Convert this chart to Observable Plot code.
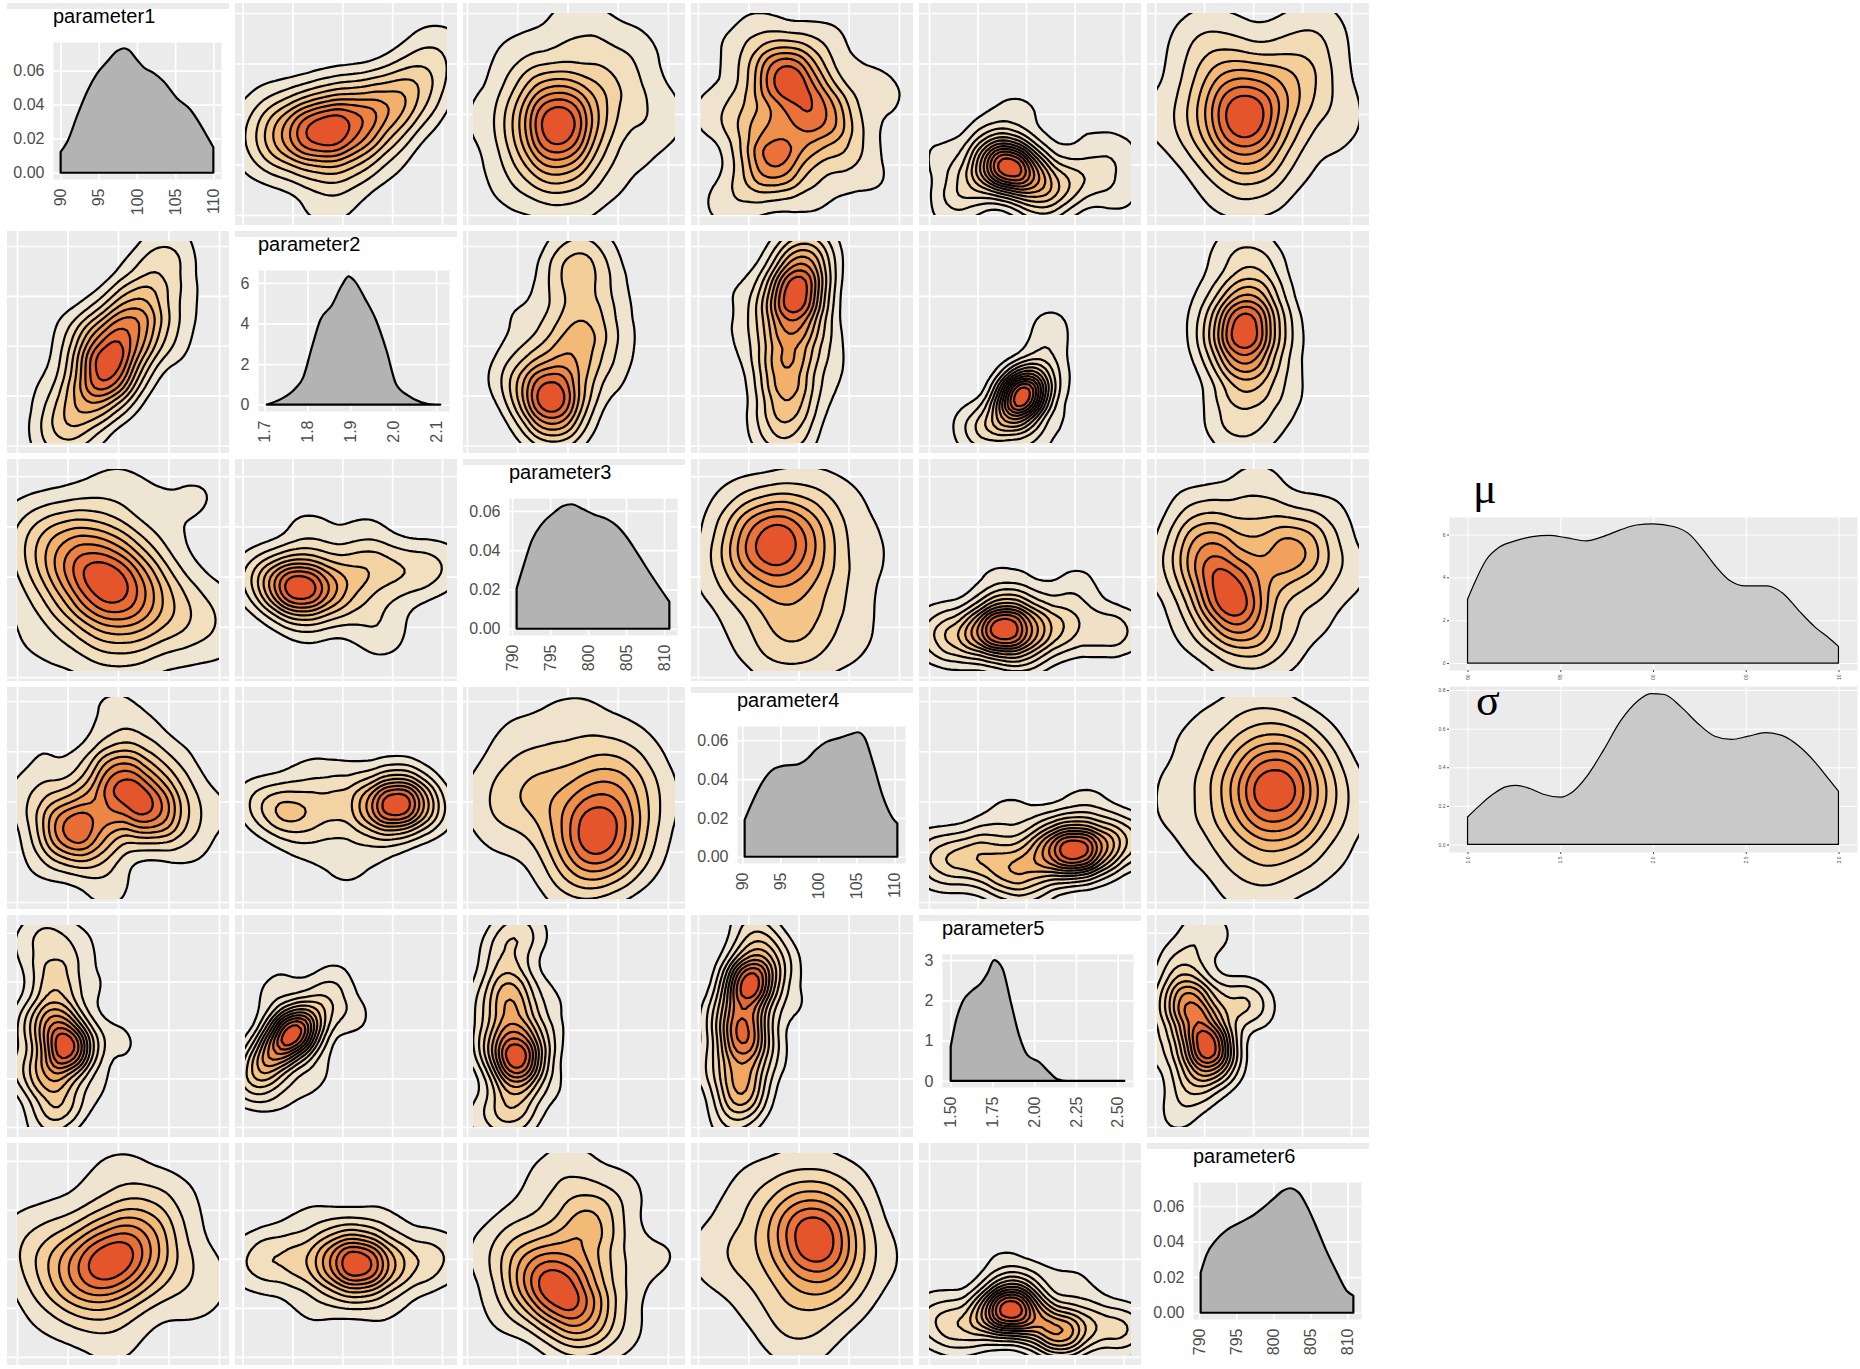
<!DOCTYPE html>
<html><head><meta charset="utf-8">
<script src="https://cdn.jsdelivr.net/npm/d3@7"></script>
<script src="https://cdn.jsdelivr.net/npm/@observablehq/plot@0.6"></script>
<style>
body{margin:0;background:#fff;font-family:"Liberation Sans",Arial,sans-serif;}
#root{position:relative;width:1860px;height:1369px;overflow:hidden;background:#fff;}
.title{position:absolute;font-size:20px;line-height:20px;color:#000;white-space:nowrap;font-family:"Liberation Sans",Arial,sans-serif;}
.greek{position:absolute;font-family:"Liberation Serif","DejaVu Serif",serif;font-size:44px;line-height:44px;color:#000;}
svg{display:block;}
</style></head><body><div id="root"></div>
<script>
// ---------- variables ----------
const varNames = ["parameter1","parameter2","parameter3","parameter4","parameter5","parameter6"];
const varLo = [90, 1.705, 790.6, 90.3, 1.5, 790.2];
const varHi = [110, 2.11, 810.7, 110.4, 2.54, 810.8];
const tickVals = [[90,95,100,105,110],[1.7,1.8,1.9,2.0,2.1],[790,795,800,805,810],[90,95,100,105,110],[1.5,1.75,2.0,2.25,2.5],[790,795,800,805,810]];
const tickLabels = [["90","95","100","105","110"],["1.7","1.8","1.9","2.0","2.1"],["790","795","800","805","810"],["90","95","100","105","110"],["1.50","1.75","2.00","2.25","2.50"],["790","795","800","805","810"]];
const densTicks = [[0,0.02,0.04,0.06],[0,2,4,6],[0,0.02,0.04,0.06],[0,0.02,0.04,0.06],[0,1,2,3],[0,0.02,0.04,0.06]];
const densLabels = [["0.00","0.02","0.04","0.06"],["0","2","4","6"],["0.00","0.02","0.04","0.06"],["0.00","0.02","0.04","0.06"],["0","1","2","3"],["0.00","0.02","0.04","0.06"]];

// ---------- marginal densities (diagonal) ----------
const p1X = [90,90.9,92.2,93.5,94.8,96.1,97.4,98.3,98.9,100,100.9,102.2,103.5,105.2,107,108.3,109.3,110];
const p1D = [0.0123,0.0185,0.034,0.048,0.0585,0.0653,0.0715,0.0731,0.0721,0.0663,0.0618,0.0585,0.0536,0.0439,0.037,0.0283,0.0205,0.015];
const p2X = [1.705,1.739,1.77,1.79,1.81,1.83,1.857,1.88,1.896,1.91,1.935,1.96,1.985,2.007,2.035,2.066,2.097,2.11];
const p2D = [0,0.28,0.76,1.33,2.8,4.17,4.9,5.87,6.32,6.1,5.2,4.17,2.63,1.0,0.44,0.11,0.0,0];
const p3X = [790.6,791.5,792.6,793.9,795.4,796.7,797.8,799.4,800.7,802.5,803.8,805.1,806.4,808.2,809.5,810.7];
const p3D = [0.0205,0.032,0.045,0.0533,0.0588,0.0625,0.0634,0.0608,0.0583,0.0558,0.0524,0.0466,0.039,0.028,0.0205,0.0138];
const p4X = [90.3,91.4,92.7,94,95.5,97.1,98.4,99.7,101,102.8,104.1,105.2,106.1,107.2,108.5,109.8,110.4];
const p4D = [0.019,0.029,0.0388,0.0448,0.0469,0.0474,0.05,0.0552,0.059,0.0612,0.0629,0.0641,0.0612,0.0483,0.031,0.0198,0.0172];
const p5X = [1.5,1.53,1.57,1.63,1.68,1.72,1.76,1.81,1.86,1.91,1.96,2.03,2.09,2.14,2.2,2.35,2.54];
const p5D = [0.85,1.47,1.96,2.25,2.42,2.67,3.0,2.79,1.96,1.13,0.64,0.47,0.22,0.04,0,0,0];
const p6X = [790.2,791,792.3,793.7,795.5,797.3,798.6,800,801.3,802.2,803.4,804.5,805.9,807.2,808.6,809.9,810.8];
const p6D = [0.0225,0.0327,0.041,0.0465,0.0507,0.0548,0.0589,0.064,0.0686,0.07,0.0677,0.0603,0.0474,0.0345,0.0225,0.0124,0.0096];

// ---------- mu / sigma densities ----------
const muX = [0.90,0.9045,0.91,0.917,0.926,0.935,0.944,0.953,0.964,0.973,0.982,0.991,1.00,1.011,1.02,1.027,1.034,1.041,1.05,1.061,1.07,1.079,1.088,1.095,1.10];
const muD = [2.98,3.88,4.81,5.4,5.71,5.9,5.96,5.85,5.7,5.9,6.2,6.44,6.49,6.37,5.98,5.28,4.5,3.88,3.6,3.6,3.26,2.41,1.63,1.16,0.78];
const muTicks = [0.90,0.95,1.00,1.05,1.10];
const muTickLabels = ["0.90","0.95","1.00","1.05","1.10"];
const muDensTicks = [0,2,4,6];
const sigX = [1.0,1.063,1.136,1.209,1.263,1.335,1.408,1.499,1.571,1.644,1.734,1.825,1.916,1.988,2.061,2.151,2.242,2.333,2.423,2.514,2.605,2.695,2.786,2.877,2.949,3.0];
const sigD = [0.142,0.2,0.26,0.3,0.306,0.29,0.26,0.245,0.276,0.354,0.49,0.64,0.742,0.782,0.777,0.713,0.627,0.561,0.544,0.561,0.579,0.565,0.51,0.423,0.337,0.276];
const sigTicks = [1.0,1.5,2.0,2.5,3.0];
const sigTickLabels = ["1.0","1.5","2.0","2.5","3.0"];
const sigDensTicks = [0,0.2,0.4,0.6,0.8];
const sigDensLabels = ["0.0","0.2","0.4","0.6","0.8"];

// ---------- pairwise samples: [fraction of x range, fraction of y range, weight] ----------
const pan01 = [[0.36,0.41,3],[0.55,0.45,2],[0.72,0.55,1.5],[0.2,0.38,1],[0.85,0.62,0.8],[0.1,0.3,0.5],[0.5,0.25,0.6],[0.45,0.6,0.6],[0.92,0.75,0.4],[0.05,0.45,0.3],[0.4,0.08,0.6],[0.95,0.85,0.4],[0.15,0.55,0.4],[0.7,0.3,0.4]];
const pan02 = [[0.42,0.45,2.5],[0.42,0.36,1.5],[0.42,0.56,1.2],[0.45,0.25,1.2],[0.36,0.62,1.2],[0.7,0.7,1.2],[0.6,0.5,1],[0.25,0.4,0.8],[0.3,0.15,0.6],[0.75,0.2,0.5],[0.2,0.8,0.6],[0.55,0.9,0.5],[0.85,0.45,0.5],[0.1,0.15,0.4],[0.9,0.9,0.4],[0.05,0.5,0.6],[0.95,0.5,0.5],[0.5,0.05,0.5],[0.5,0.95,0.5]];
const pan03 = [[0.4,0.7,3],[0.6,0.5,2.2],[0.36,0.25,2.4],[0.5,0.62,1.0],[0.47,0.4,0.9],[0.25,0.5,0.8],[0.6,0.85,0.7],[0.75,0.35,0.6],[0.15,0.8,0.5],[0.2,0.1,0.5],[0.85,0.7,0.4],[0.55,0.05,0.4],[0.05,0.5,0.6],[0.9,0.15,0.4],[0.3,0.95,0.5],[0.95,0.55,0.4],[0.1,0.05,0.4],[0.3,0.4,0.8],[0.65,0.25,0.6]];
const pan04 = [[0.39,0.24,4],[0.5,0.2,2],[0.3,0.28,1.5],[0.65,0.15,1.2],[0.2,0.15,1],[0.8,0.2,0.8],[0.55,0.05,1],[0.1,0.05,0.6],[0.95,0.1,0.5],[0.45,0.45,0.3],[0.85,0.4,0.2],[0.05,0.3,0.5],[0.95,0.3,0.5],[0.3,0.45,0.4],[0.7,0.45,0.3],[0.45,0.55,0.3]];
const pan05 = [[0.43,0.48,3],[0.45,0.35,1.5],[0.4,0.62,1.5],[0.68,0.62,1.5],[0.3,0.75,0.8],[0.7,0.8,0.6],[0.2,0.4,0.6],[0.5,0.15,0.8],[0.8,0.3,0.4],[0.15,0.85,0.4],[0.85,0.9,0.3],[0.3,0.1,0.4],[0.05,0.5,0.6],[0.95,0.5,0.5],[0.3,0.95,0.4],[0.75,0.95,0.4]];
const pan10 = [[0.45,0.35,3],[0.55,0.55,2],[0.6,0.7,1.2],[0.35,0.2,1.2],[0.7,0.85,0.6],[0.25,0.1,0.6],[0.4,0.5,1],[0.75,0.5,0.5],[0.3,0.55,0.4],[0.2,0.02,0.6],[0.75,0.98,0.5],[0.85,0.7,0.3],[0.15,0.3,0.3]];
const pan12 = [[0.38,0.25,3],[0.4,0.15,1.5],[0.5,0.45,1.5],[0.55,0.6,1.2],[0.48,0.82,1.2],[0.3,0.55,0.5],[0.25,0.35,0.6],[0.65,0.3,0.5],[0.6,0.92,0.5],[0.15,0.7,0.3],[0.7,0.75,0.4],[0.4,0.02,0.6],[0.5,0.98,0.5],[0.15,0.3,0.4],[0.75,0.5,0.4]];
const pan13 = [[0.47,0.75,3],[0.45,0.6,1.5],[0.42,0.45,1.2],[0.44,0.22,1.3],[0.4,0.35,1],[0.5,0.88,1],[0.3,0.65,0.5],[0.6,0.5,0.5],[0.35,0.08,0.6],[0.15,0.5,0.3],[0.55,0.95,0.4],[0.45,0.02,0.6],[0.5,0.98,0.6],[0.15,0.8,0.3],[0.7,0.3,0.3]];
const pan14 = [[0.46,0.24,5],[0.4,0.14,2],[0.52,0.32,1.5],[0.3,0.06,1],[0.58,0.45,0.5],[0.6,0.55,0.3],[0.7,0.3,0.3],[0.2,0.15,0.3],[0.5,0.02,0.8],[0.2,0.05,0.5],[0.7,0.1,0.4],[0.6,0.6,0.4]];
const pan15 = [[0.43,0.58,3],[0.43,0.45,2],[0.45,0.7,1.5],[0.45,0.3,1.2],[0.5,0.85,0.7],[0.35,0.15,0.6],[0.25,0.5,0.5],[0.65,0.55,0.5],[0.6,0.2,0.3],[0.3,0.95,0.3],[0.55,0.05,0.3],[0.4,0.02,0.5],[0.45,0.98,0.5],[0.2,0.7,0.3],[0.7,0.3,0.3]];
const pan20 = [[0.43,0.42,3],[0.3,0.55,1.5],[0.55,0.38,1.5],[0.18,0.62,1],[0.7,0.3,1],[0.4,0.7,0.8],[0.6,0.55,0.6],[0.1,0.4,0.5],[0.9,0.3,0.5],[0.5,0.15,0.5],[0.3,0.2,0.4],[0.8,0.8,0.3],[0.05,0.7,0.6],[0.95,0.2,0.6],[0.5,0.95,0.5],[0.5,0.05,0.5],[0.05,0.1,0.4],[0.95,0.9,0.4]];
const pan21 = [[0.27,0.41,3],[0.18,0.42,1.5],[0.4,0.42,1.5],[0.6,0.52,1.5],[0.8,0.5,1],[0.5,0.35,0.8],[0.1,0.5,0.5],[0.95,0.48,0.4],[0.7,0.3,0.4],[0.35,0.6,0.4],[0.6,0.2,0.3],[0.3,0.7,0.5],[0.6,0.75,0.4],[0.3,0.2,0.5],[0.7,0.15,0.4],[0.02,0.45,0.5],[0.98,0.55,0.4]];
const pan23 = [[0.31,0.65,3],[0.45,0.7,1.5],[0.55,0.62,1.2],[0.25,0.5,1],[0.45,0.4,1.2],[0.45,0.2,1.2],[0.7,0.4,0.7],[0.2,0.2,0.5],[0.75,0.85,0.5],[0.15,0.85,0.5],[0.85,0.15,0.4],[0.65,0.1,0.4],[0.05,0.5,0.5],[0.95,0.6,0.5],[0.5,0.95,0.5],[0.4,0.02,0.5]];
const pan24 = [[0.36,0.21,3],[0.5,0.22,1.5],[0.25,0.2,1.2],[0.65,0.2,1],[0.15,0.15,0.8],[0.85,0.2,0.7],[0.45,0.08,0.8],[0.4,0.35,0.6],[0.7,0.35,0.4],[0.05,0.25,0.4],[0.5,0.45,0.2],[0.02,0.15,0.5],[0.98,0.2,0.5],[0.3,0.45,0.3],[0.75,0.45,0.3]];
const pan25 = [[0.25,0.6,2],[0.33,0.4,2.5],[0.42,0.25,2],[0.7,0.6,1.8],[0.55,0.5,1],[0.5,0.75,0.8],[0.2,0.8,0.6],[0.75,0.3,0.6],[0.85,0.8,0.4],[0.15,0.2,0.4],[0.6,0.1,0.5],[0.05,0.5,0.5],[0.95,0.5,0.5],[0.5,0.97,0.4],[0.4,0.03,0.4]];
const pan30 = [[0.25,0.35,2.4],[0.5,0.62,2.2],[0.67,0.43,2.6],[0.55,0.5,0.8],[0.4,0.45,0.8],[0.4,0.3,0.6],[0.35,0.25,0.5],[0.75,0.65,0.7],[0.2,0.6,0.4],[0.85,0.25,0.4],[0.1,0.15,0.3],[0.6,0.85,0.4],[0.08,0.85,0.35],[0.05,0.5,0.5],[0.95,0.45,0.5],[0.45,0.05,0.5],[0.45,0.95,0.4]];
const pan31 = [[0.75,0.47,3],[0.62,0.45,1.5],[0.85,0.48,1.2],[0.22,0.43,1.3],[0.4,0.45,1],[0.12,0.45,0.6],[0.5,0.6,0.5],[0.95,0.42,0.4],[0.5,0.25,0.4],[0.03,0.8,0.15],[0.3,0.25,0.4],[0.7,0.25,0.4],[0.3,0.65,0.4],[0.75,0.65,0.4],[0.02,0.5,0.4],[0.5,0.1,0.3]];
const pan32 = [[0.64,0.3,3],[0.65,0.5,1.5],[0.55,0.2,1.2],[0.72,0.6,1],[0.35,0.55,0.8],[0.2,0.5,0.7],[0.3,0.75,0.6],[0.45,0.4,0.8],[0.6,0.75,0.5],[0.15,0.25,0.4],[0.85,0.2,0.4],[0.85,0.85,0.3],[0.1,0.9,0.3],[0.05,0.5,0.5],[0.95,0.5,0.5],[0.5,0.95,0.5],[0.5,0.02,0.5]];
const pan34 = [[0.72,0.24,3],[0.55,0.22,1.5],[0.38,0.14,1.3],[0.2,0.2,1],[0.85,0.25,1],[0.6,0.35,0.5],[0.3,0.3,0.5],[0.05,0.15,0.5],[0.95,0.3,0.4],[0.5,0.05,0.5],[0.75,0.45,0.2],[0.02,0.25,0.5],[0.98,0.3,0.5],[0.4,0.45,0.3],[0.8,0.45,0.3]];
const pan35 = [[0.6,0.6,3],[0.55,0.45,1.5],[0.65,0.3,1],[0.4,0.5,0.8],[0.3,0.7,0.6],[0.75,0.75,0.6],[0.25,0.3,0.5],[0.8,0.45,0.5],[0.5,0.85,0.4],[0.45,0.15,0.4],[0.05,0.5,0.5],[0.95,0.5,0.5],[0.5,0.95,0.5],[0.5,0.05,0.5],[0.1,0.9,0.3],[0.9,0.1,0.3]];
const pan40 = [[0.25,0.39,3],[0.2,0.55,1.5],[0.18,0.75,1],[0.15,0.25,1.2],[0.22,0.12,0.8],[0.08,0.5,0.8],[0.3,0.9,0.4],[0.45,0.45,0.3],[0.55,0.4,0.2],[0.05,0.9,0.3],[0.15,0.98,0.5],[0.15,0.02,0.5],[0.4,0.7,0.3],[0.4,0.2,0.3],[0.02,0.3,0.5]];
const pan41 = [[0.24,0.47,4],[0.15,0.38,2],[0.08,0.3,1.5],[0.32,0.55,1.2],[0.4,0.65,0.6],[0.55,0.55,0.3],[0.2,0.75,0.3],[0.3,0.2,0.3],[0.02,0.2,0.8],[0.45,0.75,0.4],[0.5,0.55,0.3],[0.35,0.3,0.4],[0.15,0.15,0.4],[0.12,0.65,0.4]];
const pan42 = [[0.22,0.33,3],[0.2,0.5,1.5],[0.18,0.67,1.5],[0.2,0.15,1],[0.15,0.85,0.7],[0.08,0.4,0.8],[0.35,0.45,0.5],[0.4,0.2,0.3],[0.05,0.05,0.4],[0.3,0.95,0.3],[0.2,0.98,0.5],[0.2,0.02,0.5],[0.4,0.65,0.3],[0.02,0.6,0.4]];
const pan43 = [[0.24,0.73,2.5],[0.21,0.45,2],[0.2,0.16,1.3],[0.22,0.6,1.2],[0.2,0.3,1],[0.3,0.88,0.6],[0.1,0.55,0.5],[0.4,0.8,0.4],[0.35,0.35,0.3],[0.15,0.02,0.4],[0.25,0.98,0.5],[0.45,0.6,0.3],[0.05,0.3,0.4]];
const pan45 = [[0.25,0.4,3],[0.16,0.63,2],[0.2,0.52,1.2],[0.18,0.22,1],[0.12,0.8,0.8],[0.3,0.3,0.8],[0.05,0.4,0.6],[0.38,0.62,0.6],[0.45,0.62,0.4],[0.3,0.95,0.3],[0.1,0.05,0.4],[0.2,0.98,0.4],[0.5,0.58,0.3],[0.02,0.6,0.5]];
const pan50 = [[0.47,0.46,3],[0.35,0.42,1.5],[0.6,0.55,1.5],[0.62,0.7,1],[0.2,0.38,1],[0.75,0.4,0.7],[0.4,0.2,0.6],[0.1,0.5,0.5],[0.3,0.75,0.4],[0.85,0.8,0.4],[0.9,0.15,0.3],[0.1,0.1,0.3],[0.05,0.6,0.5],[0.95,0.4,0.5],[0.5,0.95,0.5],[0.5,0.05,0.5]];
const pan51 = [[0.57,0.45,3],[0.45,0.47,1.5],[0.7,0.45,1.2],[0.3,0.45,1],[0.15,0.5,0.7],[0.85,0.45,0.7],[0.5,0.3,0.6],[0.5,0.62,0.6],[0.05,0.4,0.4],[0.97,0.55,0.3],[0.3,0.7,0.4],[0.7,0.7,0.4],[0.3,0.2,0.4],[0.7,0.2,0.4],[0.02,0.5,0.4],[0.98,0.45,0.4]];
const pan52 = [[0.3,0.4,2],[0.42,0.3,2.5],[0.55,0.2,2],[0.58,0.68,1.8],[0.5,0.5,1.2],[0.25,0.6,0.8],[0.7,0.4,0.7],[0.15,0.2,0.5],[0.35,0.85,0.5],[0.8,0.85,0.4],[0.8,0.1,0.4],[0.05,0.5,0.5],[0.95,0.5,0.5],[0.5,0.97,0.5],[0.5,0.03,0.5]];
const pan53 = [[0.6,0.58,3],[0.5,0.7,1.3],[0.55,0.4,1.2],[0.35,0.6,0.8],[0.7,0.3,0.7],[0.3,0.3,0.6],[0.45,0.15,0.5],[0.2,0.85,0.5],[0.75,0.85,0.5],[0.15,0.5,0.4],[0.05,0.5,0.5],[0.95,0.5,0.5],[0.5,0.95,0.5],[0.5,0.05,0.5]];
const pan54 = [[0.4,0.23,3],[0.65,0.11,2],[0.28,0.2,1.2],[0.52,0.18,1.2],[0.8,0.15,0.8],[0.15,0.12,0.7],[0.45,0.35,0.5],[0.95,0.1,0.4],[0.05,0.25,0.3],[0.6,0.4,0.2],[0.02,0.15,0.5],[0.98,0.15,0.5],[0.35,0.45,0.3],[0.75,0.35,0.3]];

const panels = [
  [null, pan01, pan02, pan03, pan04, pan05],
  [pan10, null, pan12, pan13, pan14, pan15],
  [pan20, pan21, null, pan23, pan24, pan25],
  [pan30, pan31, pan32, null, pan34, pan35],
  [pan40, pan41, pan42, pan43, null, pan45],
  [pan50, pan51, pan52, pan53, pan54, null]
];
const diagX = [p1X,p2X,p3X,p4X,p5X,p6X];
const diagD = [p1D,p2D,p3D,p4D,p5D,p6D];

// ---------- styling / layout ----------
const bandwidths = [
  [0,22,24,20,16,26],
  [20,0,20,18,14,20],
  [28,18,0,26,16,22],
  [20,17,26,0,16,28],
  [15,14,15,15,0,15],
  [26,18,22,26,15,0]
];
const levels = [
  [0,10,10,8,13,9],
  [10,0,9,10,13,10],
  [10,10,0,8,12,9],
  [9,10,8,0,12,9],
  [11,12,11,11,0,11],
  [9,10,9,8,13,0]
];
const CX0 = 7, CY0 = 3, PITCH = 228, CW = 222;
const STRIP = 6;
const diagML = [46,23,46,46,23,46];
const diagMB = [46,42,46,46,50,46];
const fillInterp = d3.interpolateRgbBasis(["#ebe8e2","#f1e3c6","#f5cd92","#f2a85c","#ec7b3d","#e5552b"]);
const FONT = "'Liberation Sans', Arial, sans-serif";

const root = document.getElementById("root");
function place(el, left, top) {
  el.style.position = "absolute";
  el.style.left = left + "px";
  el.style.top = top + "px";
  root.appendChild(el);
  return el;
}

function offDiag(r, c) {
  const pts = panels[r][c];
  const xl = varLo[c], xh = varHi[c], yl = varLo[r], yh = varHi[r];
  const xe = (xh - xl) * 0.05, ye = (yh - yl) * 0.05;
  const data = pts.map(([u, v, w]) => ({x: xl + u * (xh - xl), y: yl + v * (yh - yl), w}));
  const svg = Plot.plot({
    width: CW, height: CW, margin: 10,
    x: {domain: [xl, xh], axis: null},
    y: {domain: [yl, yh], axis: null},
    color: {type: "linear", interpolate: fillInterp},
    style: {background: "#ebebeb", overflow: "hidden"},
    marks: [
      Plot.ruleX(tickVals[c], {y1: yl - ye, y2: yh + ye, stroke: "white", strokeWidth: 1.7}),
      Plot.ruleY(tickVals[r], {x1: xl - xe, x2: xh + xe, stroke: "white", strokeWidth: 1.7}),
      Plot.density(data, {x: "x", y: "y", weight: "w", bandwidth: bandwidths[r][c], thresholds: levels[r][c],
        fill: "density", stroke: "black", strokeWidth: 2.2, clip: true})
    ]
  });
  place(svg, CX0 + c * PITCH, CY0 + r * PITCH);
}

function diag(i) {
  const xl = varLo[i], xh = varHi[i], xe = (xh - xl) * 0.05;
  const D = diagD[i];
  const dmax = d3.max(D), ye = dmax * 0.05;
  const data = diagX[i].map((x, k) => ({x, d: D[k]}));
  const xMap = new Map(tickVals[i].map((t, k) => [t, tickLabels[i][k]]));
  const yMap = new Map(densTicks[i].map((t, k) => [t, densLabels[i][k]]));
  const cell = document.createElement("div");
  cell.style.width = CW + "px"; cell.style.height = CW + "px"; cell.style.background = "#ebebeb";
  place(cell, CX0 + i * PITCH, CY0 + i * PITCH);
  const svg = Plot.plot({
    width: CW, height: CW - STRIP,
    marginTop: 39 - STRIP, marginRight: 8, marginLeft: diagML[i], marginBottom: diagMB[i],
    x: {domain: [xl - xe, xh + xe], label: null},
    y: {domain: [-ye, dmax + ye], label: null},
    style: {background: "white", fontFamily: FONT, fontSize: "16px", overflow: "visible"},
    marks: [
      Plot.frame({fill: "#ebebeb"}),
      Plot.ruleX(tickVals[i], {stroke: "white", strokeWidth: 1.7}),
      Plot.ruleY(densTicks[i], {stroke: "white", strokeWidth: 1.7}),
      Plot.areaY(data, {x: "x", y: "d", fill: "#b3b3b3", stroke: "black", strokeWidth: 2.2, curve: "monotone-x"}),
      Plot.axisX({ticks: tickVals[i], tickFormat: d => xMap.get(d), tickRotate: -90, tickSize: 0, tickPadding: 9,
        fontSize: 16, color: "#4d4d4d", label: null}),
      Plot.axisY({ticks: densTicks[i], tickFormat: d => yMap.get(d), tickSize: 0, tickPadding: 9,
        fontSize: 16, color: "#4d4d4d", label: null})
    ]
  });
  svg.style.position = "absolute"; svg.style.left = "0px"; svg.style.top = STRIP + "px";
  cell.appendChild(svg);
  const t = document.createElement("div");
  t.className = "title"; t.textContent = varNames[i];
  place(t, CX0 + i * PITCH + diagML[i], CY0 + i * PITCH + 3);
}

function side(X, D, ticks, labels, dTicks, dLabels, left, top, width, height, mt, mb) {
  const xl = d3.min(X), xh = d3.max(X), xe = (xh - xl) * 0.05;
  const dmax = d3.max(D), ye = dmax * 0.05;
  const data = X.map((x, k) => ({x, d: D[k]}));
  const xMap = new Map(ticks.map((t, k) => [t, labels[k]]));
  const yMap = new Map(dTicks.map((t, k) => [t, dLabels[k]]));
  const svg = Plot.plot({
    width, height, marginTop: mt, marginBottom: mb, marginLeft: 24, marginRight: 3,
    x: {domain: [xl - xe, xh + xe], label: null},
    y: {domain: [-ye, dmax + ye], label: null},
    style: {background: "white", fontFamily: FONT, fontSize: "5px", overflow: "visible"},
    marks: [
      Plot.frame({fill: "#ebebeb"}),
      Plot.ruleX(ticks, {stroke: "white", strokeWidth: 1}),
      Plot.ruleY(dTicks, {stroke: "white", strokeWidth: 1}),
      Plot.areaY(data, {x: "x", y: "d", fill: "#c9c9c9", stroke: "black", strokeWidth: 1.2, curve: "monotone-x"}),
      Plot.axisX({ticks, tickFormat: d => xMap.get(d), tickRotate: -90, tickSize: 2, tickPadding: 2,
        fontSize: 5, color: "#4d4d4d", label: null}),
      Plot.axisY({ticks: dTicks, tickFormat: d => yMap.get(d), tickSize: 2, tickPadding: 2,
        fontSize: 5, color: "#4d4d4d", label: null})
    ]
  });
  place(svg, left, top);
}

for (let r = 0; r < 6; r++) for (let c = 0; c < 6; c++) {
  if (r === c) diag(r); else offDiag(r, c);
}

side(muX, muD, muTicks, muTickLabels, muDensTicks, muDensTicks.map(String), 1425, 470, 435, 215, 47, 15);
side(sigX, sigD, sigTicks, sigTickLabels, sigDensTicks, sigDensLabels, 1425, 680, 435, 185, 6, 13);

const mu = document.createElement("div"); mu.className = "greek"; mu.textContent = "μ";
place(mu, 1473, 467);
const sg = document.createElement("div"); sg.className = "greek"; sg.textContent = "σ";
place(sg, 1476, 679);
</script>
</body></html>
